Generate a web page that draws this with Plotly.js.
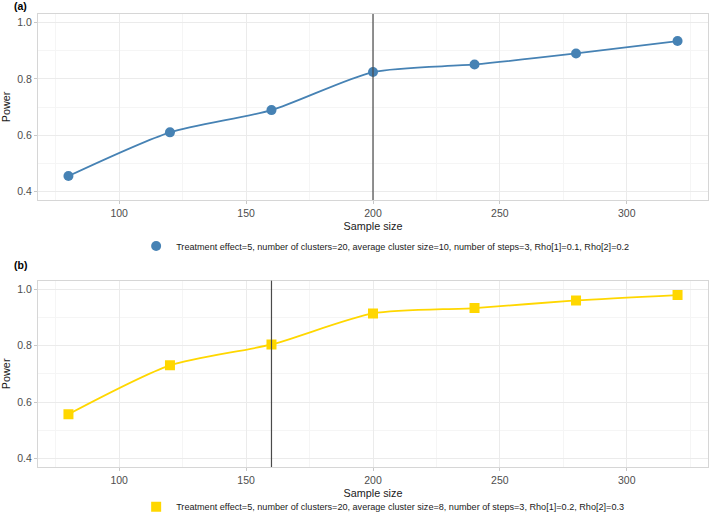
<!DOCTYPE html>
<html>
<head>
<meta charset="utf-8">
<script src="https://cdn.plot.ly/plotly-3.0.1.min.js"></script>
<style>html,body{margin:0;padding:0;background:#fff;}#chart{width:709px;height:512px;}</style>
</head>
<body>
<div id="chart"></div>
<script>
// Data
const sampleSize = [80, 120, 160, 200, 240, 280, 320];
const powerA = [0.455, 0.610, 0.689, 0.824, 0.851, 0.890, 0.934];
const powerB = [0.557, 0.730, 0.804, 0.914, 0.933, 0.960, 0.979];
const cutoffA = [200];
const cutoffB = [160];
const labelA = "Treatment effect=5, number of clusters=20, average cluster size=10, number of steps=3, Rho[1]=0.1, Rho[2]=0.2";
const labelB = "Treatment effect=5, number of clusters=20, average cluster size=8, number of steps=3, Rho[1]=0.2, Rho[2]=0.3";
const xRange = [68, 332];
const yRange = [0.37, 1.03];

const blue = "#4682B4";
const gold = "#FFD700";
const FONT = "Liberation Sans, Arial, sans-serif";

const traces = [
  {x: sampleSize, y: powerA, mode: "lines", line: {color: blue, width: 1.8, shape: "spline", smoothing: 0.7}, xaxis: "x", yaxis: "y", showlegend: false, hoverinfo: "skip"},
  {x: sampleSize, y: powerA, mode: "markers", marker: {color: blue, size: 10, symbol: "circle"}, xaxis: "x", yaxis: "y", name: labelA, legend: "legend"},
  {x: sampleSize, y: powerB, mode: "lines", line: {color: gold, width: 1.8, shape: "spline", smoothing: 0.7}, xaxis: "x2", yaxis: "y2", showlegend: false, hoverinfo: "skip"},
  {x: sampleSize, y: powerB, mode: "markers", marker: {color: gold, size: 10, symbol: "square"}, xaxis: "x2", yaxis: "y2", name: labelB, legend: "legend2"}
];

function xax(anchor) {
  return {
    anchor: anchor, range: xRange, tickvals: [100, 150, 200, 250, 300],
    showgrid: true, gridcolor: "#ebebeb", gridwidth: 1,
    minor: {tickvals: [75, 125, 175, 225, 275, 325], showgrid: true, gridcolor: "#f5f5f5", gridwidth: 1},
    showline: true, mirror: true, linecolor: "#d6d6d6", linewidth: 1,
    ticks: "outside", ticklen: 3, tickcolor: "#c8c8c8",
    tickfont: {family: FONT, size: 10.5, color: "#4d4d4d"},
    zeroline: false, automargin: false,
    title: {text: "Sample size", font: {family: FONT, size: 10.8, color: "#1a1a1a"}, standoff: 4}
  };
}
function yax(anchor, domain) {
  return {
    anchor: anchor, domain: domain, range: yRange, tickvals: [0.4, 0.6, 0.8, 1.0], ticktext: ["0.4", "0.6", "0.8", "1.0"],
    showgrid: true, gridcolor: "#ebebeb", gridwidth: 1,
    minor: {tickvals: [0.5, 0.7, 0.9], showgrid: true, gridcolor: "#f5f5f5", gridwidth: 1},
    showline: true, mirror: true, linecolor: "#d6d6d6", linewidth: 1,
    ticks: "outside", ticklen: 3, tickcolor: "#c8c8c8",
    tickfont: {family: FONT, size: 10.5, color: "#4d4d4d"},
    zeroline: false, automargin: false,
    title: {text: "Power", font: {family: FONT, size: 10.8, color: "#1a1a1a"}, standoff: 6}
  };
}

const layout = {
  width: 709, height: 512,
  margin: {l: 38, r: 1, t: 14, b: 45, autoexpand: false},
  paper_bgcolor: "#fff", plot_bgcolor: "#fff",
  font: {family: FONT},
  xaxis: xax("y"),
  yaxis: yax("x", [0.5894, 1]),
  xaxis2: xax("y2"),
  yaxis2: yax("x2", [0, 0.4113]),
  legend: {x: 0.1465, y: 0.4879, xanchor: "left", yanchor: "middle", orientation: "h", bgcolor: "rgba(0,0,0,0)",
           font: {family: FONT, size: 9.1, color: "#1a1a1a"}, itemwidth: 30},
  legend2: {x: 0.1465, y: -0.0876, xanchor: "left", yanchor: "middle", orientation: "h", bgcolor: "rgba(0,0,0,0)",
            font: {family: FONT, size: 9.1, color: "#1a1a1a"}, itemwidth: 30},
  shapes: [
    {type: "line", xref: "x", yref: "y domain", x0: cutoffA[0], x1: cutoffA[0], y0: 0, y1: 1, line: {color: "#4a4a4a", width: 1.2}},
    {type: "line", xref: "x2", yref: "y2 domain", x0: cutoffB[0], x1: cutoffB[0], y0: 0, y1: 1, line: {color: "#4a4a4a", width: 1.2}}
  ],
  annotations: [
    {text: "<b>(a)</b>", xref: "paper", yref: "paper", x: -0.0388, y: 1.0177, xanchor: "left", yanchor: "middle", showarrow: false, font: {family: FONT, size: 10.5, color: "#000"}},
    {text: "<b>(b)</b>", xref: "paper", yref: "paper", x: -0.0388, y: 0.4459, xanchor: "left", yanchor: "middle", showarrow: false, font: {family: FONT, size: 10.5, color: "#000"}}
  ]
};

Plotly.newPlot("chart", traces, layout, {displayModeBar: false, staticPlot: true});
</script>
</body>
</html>
